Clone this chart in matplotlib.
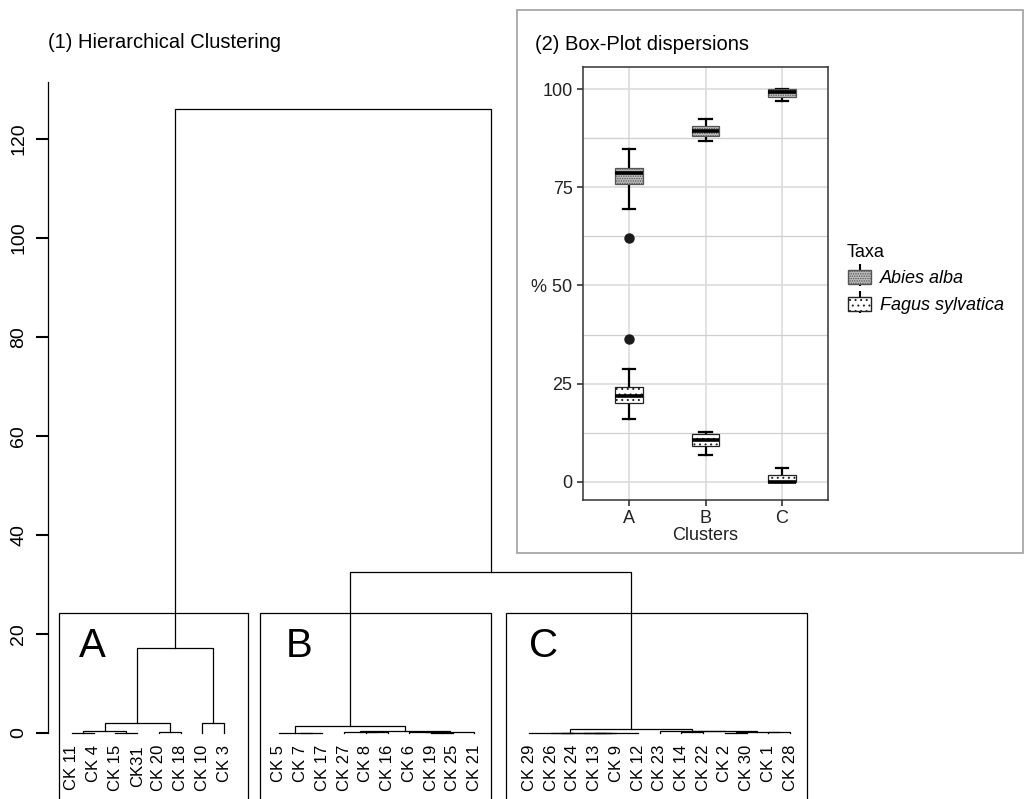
import numpy as np
import matplotlib
matplotlib.use("Agg")
import matplotlib.pyplot as plt
from matplotlib.patches import Rectangle, Patch
from matplotlib.lines import Line2D
from matplotlib.legend_handler import HandlerPatch, HandlerTuple

plt.rcParams["font.family"] = ["Liberation Sans", "DejaVu Sans"]
plt.rcParams["hatch.linewidth"] = 0.7

W, H = 1025, 799

# ---- dendrogram data ----
groups = ["A", "B", "C"]
leaves_A = ["CK 11", "CK 4", "CK 15", "CK31", "CK 20", "CK 18", "CK 10", "CK 3"]
leaves_B = ["CK 5", "CK 7", "CK 17", "CK 27", "CK 8", "CK 16", "CK 6", "CK 19", "CK 25", "CK 21"]
leaves_C = ["CK 29", "CK 26", "CK 24", "CK 13", "CK 9", "CK 12", "CK 23", "CK 14", "CK 22",
            "CK 2", "CK 30", "CK 1", "CK 28"]

# merges: (node, left, right, height)
merges = [
    ("a1", "CK 11", "CK 4", 0.05),
    ("a2", "CK 15", "CK31", 0.1),
    ("a3", "a1", "a2", 0.35),
    ("a4", "CK 20", "CK 18", 0.3),
    ("a5", "a3", "a4", 2.0),
    ("a6", "CK 10", "CK 3", 2.1),
    ("A", "a5", "a6", 17.2),
    ("b1", "CK 7", "CK 17", 0.05),
    ("b2", "CK 5", "b1", 0.1),
    ("b3", "CK 8", "CK 16", 0.2),
    ("b4", "CK 27", "b3", 0.25),
    ("b5", "CK 19", "CK 25", 0.05),
    ("b6", "CK 6", "b5", 0.15),
    ("b7", "b6", "CK 21", 0.2),
    ("b8", "b4", "b7", 0.4),
    ("B", "b2", "b8", 1.5),
    ("c1", "CK 26", "CK 24", 0.02),
    ("c2", "CK 13", "CK 9", 0.02),
    ("c3", "c1", "c2", 0.04),
    ("c4", "c3", "CK 12", 0.06),
    ("c5", "CK 29", "c4", 0.08),
    ("c6", "CK 14", "CK 22", 0.3),
    ("c8", "CK 2", "CK 30", 0.1),
    ("c9", "CK 1", "CK 28", 0.15),
    ("c10", "c8", "c9", 0.2),
    ("c11", "c6", "c10", 0.4),
    ("c12", "CK 23", "c11", 0.5),
    ("C", "c5", "c12", 0.75),
    ("BC", "B", "C", 32.5),
    ("root", "A", "BC", 126.0),
]

# ---- boxplot data (percent) ----
clusters = ["A", "B", "C"]
abies_whislo = [69.5, 86.8, 97.0]
abies_q1 = [75.7, 88.0, 98.0]
abies_med = [78.5, 89.4, 99.3]
abies_q3 = [80.0, 90.6, 100.0]
abies_whishi = [84.7, 92.4, 100.0]
abies_fliers = [[62.2], [], []]

fagus_whislo = [16.0, 6.9, 0.0]
fagus_q1 = [20.0, 9.2, 0.0]
fagus_med = [21.9, 10.7, 0.0]
fagus_q3 = [24.1, 12.2, 1.8]
fagus_whishi = [28.7, 12.7, 3.6]
fagus_fliers = [[36.3], [], []]

fig = plt.figure(figsize=(W / 100, H / 100), dpi=100)

# ---------------- dendrogram ----------------
gap = 1.53
xpos = {}
all_groups = [leaves_A, leaves_B, leaves_C]
k = 0
for g, lv in enumerate(all_groups):
    for name in lv:
        xpos[name] = k + gap * g
        k += 1
ypos = {name: 0.0 for name in xpos}

px_unit = 21.72
y_unit = 4.95
x0_px = 72
ax1_left, ax1_right = 48, 830
ax1 = fig.add_axes([ax1_left / W, 0, (ax1_right - ax1_left) / W, (H - 82) / H])
ax1.set_xlim((ax1_left - x0_px) / px_unit, (ax1_right - x0_px) / px_unit)
ax1.set_ylim((733 - H) / y_unit, (733 - 82) / y_unit)

for node, l, r, h in merges:
    xl, xr = xpos[l], xpos[r]
    ax1.plot([xl, xl, xr, xr], [ypos[l], h, h, ypos[r]], color="black", lw=0.9,
             solid_joinstyle="miter")
    xpos[node] = (xl + xr) / 2
    ypos[node] = h

for name in leaves_A + leaves_B + leaves_C:
    ax1.text(xpos[name], -2.4, name, rotation=90, ha="center", va="top", fontsize=12)

# cluster boxes
pads = [(-0.6, 1.1), (-0.87, 0.76), (-1.08, 0.78)]
letter_dx = [0.3, 0.3, 0.0]
for g, lv in enumerate(all_groups):
    x_a = xpos[lv[0]] + pads[g][0]
    x_b = xpos[lv[-1]] + pads[g][1]
    ax1.add_patch(Rectangle((x_a, -40), x_b - x_a, 40 + 24.2, fill=False,
                            edgecolor="black", lw=0.9))
    ax1.text(xpos[lv[0]] + letter_dx[g], 15.4, groups[g], fontsize=29, ha="left",
             va="baseline")

for s in ["top", "right", "bottom"]:
    ax1.spines[s].set_visible(False)
ax1.spines["left"].set_bounds(0, 131.5)
ax1.spines["left"].set_linewidth(0.9)
ax1.set_xticks([])
ax1.set_yticks([0, 20, 40, 60, 80, 100, 120])
ax1.tick_params(axis="y", length=9, width=1.5, labelsize=14, pad=6)
for t in ax1.get_yticklabels():
    t.set_rotation(90)
    t.set_va("center")
ax1.patch.set_visible(False)

fig.text(48 / W, 1 - 43 / H, "(1) Hierarchical Clustering", fontsize=14.5, va="center")

# ---------------- boxplot panel ----------------
frame = Rectangle((517 / W, 1 - 553 / H), (1023 - 517) / W, (553 - 10) / H,
                  transform=fig.transFigure, fill=False, edgecolor="#a0a0a0", lw=1.2)
fig.patches.append(frame)
fig.text(535 / W, 1 - 45 / H, "(2) Box-Plot dispersions", fontsize=14.5, va="center")

ax2 = fig.add_axes([583 / W, (H - 500) / H, (828 - 583) / W, (500 - 67) / H])


def make_stats(lo, q1, med, q3, hi, fl):
    return [dict(whislo=lo[i], q1=q1[i], med=med[i], q3=q3[i], whishi=hi[i],
                 fliers=fl[i]) for i in range(len(lo))]


abies_fc, abies_ec, abies_hatch = "#bdbdbd", "#555555", "......."
fagus_fc, fagus_ec, fagus_hatch = "white", "#222222", "..."
series = [
    (make_stats(abies_whislo, abies_q1, abies_med, abies_q3, abies_whishi, abies_fliers),
     abies_fc, abies_ec, abies_hatch),
    (make_stats(fagus_whislo, fagus_q1, fagus_med, fagus_q3, fagus_whishi, fagus_fliers),
     fagus_fc, fagus_ec, fagus_hatch),
]
for stats, fc, ec, hatch in series:
    bp = ax2.bxp(stats, positions=[1, 2, 3], widths=0.36, patch_artist=True,
                 showfliers=True, capwidths=0.16, manage_ticks=False,
                 boxprops=dict(facecolor=fc, edgecolor=ec, hatch=hatch, lw=0.9),
                 medianprops=dict(color="black", lw=2.6),
                 whiskerprops=dict(color="black", lw=1.6),
                 capprops=dict(color="black", lw=1.6),
                 flierprops=dict(marker="o", markerfacecolor="#1a1a1a",
                                 markeredgecolor="#1a1a1a", markersize=6.5))
    for b in bp["boxes"]:
        b.set_zorder(3)
    for m in bp["medians"]:
        m.set_zorder(4)

ax2.set_xlim(0.4, 3.6)
ax2.set_ylim(-4.6, 105.6)
ax2.set_yticks([0, 25, 50, 75, 100])
ax2.set_yticklabels(["0", "25", "% 50", "75", "100"])
ax2.set_yticks([12.5, 37.5, 62.5, 87.5], minor=True)
ax2.set_xticks([1, 2, 3])
ax2.set_xticklabels(clusters)
ax2.grid(True, which="major", color="#dcdcdc", lw=1.2)
ax2.grid(True, which="minor", axis="y", color="#cfcfcf", lw=0.9)
ax2.set_axisbelow(True)
ax2.tick_params(axis="both", which="major", labelsize=13, length=4, width=1.2,
                color="#333333", labelcolor="#222222")
ax2.tick_params(axis="y", which="minor", length=0)
for s in ax2.spines.values():
    s.set_color("#333333")
    s.set_linewidth(1.1)
ax2.set_xlabel("Clusters", fontsize=13, labelpad=0, color="#222222")


def small_box(legend, orig_handle, xdescent, ydescent, width, height, fontsize):
    return Rectangle((-xdescent + 0.05 * width, -ydescent + 0.18 * height),
                     0.9 * width, 0.64 * height)


def key(fc, ec, hatch):
    whisker = Line2D([], [], marker="|", markersize=16, mew=1.5, color="black",
                     linestyle="none")
    box = Patch(facecolor=fc, edgecolor=ec, hatch=hatch)
    return (whisker, box)


handles = [key(abies_fc, abies_ec, abies_hatch), key(fagus_fc, fagus_ec, fagus_hatch)]
leg = fig.legend(handles=handles, labels=["Abies alba", "Fagus sylvatica"], title="Taxa",
                 loc="upper left", bbox_to_anchor=(847 / W, 1 - 244 / H), frameon=False,
                 borderpad=0, borderaxespad=0,
                 prop=dict(size=13, style="italic"), title_fontsize=13,
                 handlelength=1.4, handleheight=1.45, handletextpad=0.4,
                 labelspacing=0.3, alignment="left",
                 handler_map={tuple: HandlerTuple(ndivide=1),
                              Patch: HandlerPatch(patch_func=small_box)})

fig.savefig("out.png", dpi=100)
